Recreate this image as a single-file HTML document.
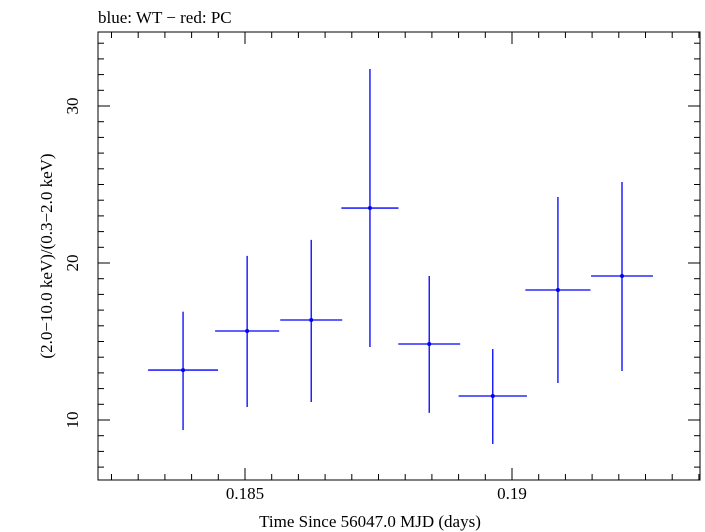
<!DOCTYPE html>
<html><head><meta charset="utf-8"><style>body{margin:0;background:#fff}svg{display:block}</style></head>
<body>
<svg id="chart" width="705" height="532" xmlns="http://www.w3.org/2000/svg" font-family="Liberation Serif, serif">
<text x="98" y="23" font-size="17">blue: WT − red: PC</text>
<rect x="98" y="32" width="602" height="448" fill="none" stroke="#000" stroke-width="1"/>
<g id="ticks"></g>
<g id="marks"></g>
<text x="370" y="527" font-size="17" text-anchor="middle">Time Since 56047.0 MJD (days)</text>
<text transform="translate(52,256) rotate(-90)" font-size="17" text-anchor="middle">(2.0−10.0 keV)/(0.3−2.0 keV)</text>
</svg>
<script>
const xCenters=[0.18384,0.18504,0.18624,0.18734,0.18845,0.18964,0.19086,0.19206];
const xHalf=[0.000655,0.0006,0.00058,0.000535,0.00058,0.00064,0.00061,0.00058];
const yValues=[13.18,15.67,16.37,23.5,14.84,11.53,18.28,19.17];
const yHigh=[16.9,20.45,21.47,32.36,19.17,14.52,24.2,25.16];
const yLow=[9.36,10.83,11.15,14.65,10.45,8.47,12.36,13.12];
const xTickLabels=["0.185","0.19"];
const xTickVals=[0.185,0.19];
const yTickVals=[10,20,30];
const yTickLabels=["10","20","30"];
const L=98,R=700,T=32,B=480;
const X=v=>245+(v-0.185)*53400;
const Y=v=>420-(v-10)*15.7;
const NS="http://www.w3.org/2000/svg";
function mk(tag,attrs,parent){const e=document.createElementNS(NS,tag);for(const k in attrs)e.setAttribute(k,attrs[k]);parent.appendChild(e);return e;}
const tg=document.getElementById('ticks'),mg=document.getElementById('marks');
for(let i=0;i<=30;i++){const v=0.181+i*0.0005;const x=X(v);if(x<L||x>R)continue;
 const major=Math.abs(Math.round(v*1000)-v*1000)<1e-6&&Math.round(v*1000)%5===0;const len=major?12:6;
 const t1=mk('line',{x1:x,x2:x,y1:B,y2:B-len,stroke:'#000'},tg);
 const t2=mk('line',{x1:x,x2:x,y1:T,y2:T+len,stroke:'#000'},tg);}
for(let v=5;v<=40;v++){const y=Y(v);if(y<T||y>B)continue;const len=v%10===0?12:6;
 const t1=mk('line',{x1:L,x2:L+len,y1:y,y2:y,stroke:'#000'},tg);
 const t2=mk('line',{x1:R,x2:R-len,y1:y,y2:y,stroke:'#000'},tg);}
xTickVals.forEach((v,i)=>{const t=mk('text',{x:X(v),y:B+19,'font-size':17,'text-anchor':'middle'},tg);t.textContent=xTickLabels[i];
 });
yTickVals.forEach((v,i)=>{const t=mk('text',{transform:`translate(${L-20},${Y(v)}) rotate(-90)`,'font-size':17,'text-anchor':'middle'},tg);t.textContent=yTickLabels[i];
 });
xCenters.forEach((c,i)=>{
 const h=mk('line',{x1:X(c-xHalf[i]),x2:X(c+xHalf[i]),y1:Y(yValues[i]),y2:Y(yValues[i]),stroke:'#0000ff','stroke-width':1.3},mg);
 
 const v=mk('line',{x1:X(c),x2:X(c),y1:Y(yLow[i]),y2:Y(yHigh[i]),stroke:'#0000ff','stroke-width':1.3},mg);
 
 const p=mk('circle',{cx:X(c),cy:Y(yValues[i]),r:2,fill:'#0000ff'},mg);
 
});
</script>
</body></html>
